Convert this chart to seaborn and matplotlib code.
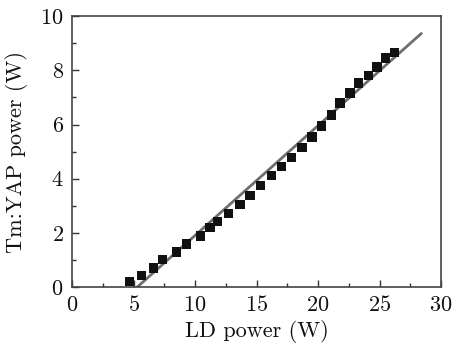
import matplotlib
matplotlib.use("Agg")
import matplotlib.pyplot as plt
import seaborn as sns
import pandas as pd
from matplotlib.ticker import MultipleLocator

ld_power = [4.66, 5.66, 6.64, 7.37, 8.51, 9.33, 10.46, 11.22, 11.84, 12.74, 13.66, 14.47,
            15.3, 16.2, 17.05, 17.86, 18.7, 19.5, 20.3, 21.1, 21.8, 22.6, 23.3, 24.1,
            24.8, 25.5, 26.2]
out_power = [0.2, 0.44, 0.71, 1.02, 1.29, 1.59, 1.88, 2.2, 2.41, 2.72, 3.05, 3.39,
             3.75, 4.11, 4.44, 4.79, 5.15, 5.54, 5.94, 6.35, 6.79, 7.16, 7.53, 7.82,
             8.12, 8.45, 8.67]
fit_x = [5.3, 28.4]
fit_y = [0.0, 9.36]

x_ticks = [0, 5, 10, 15, 20, 25, 30]
y_ticks = [0, 2, 4, 6, 8, 10]

sns.set_style("ticks")
plt.rcParams['font.family'] = ['cmr10', 'DejaVu Serif']
plt.rcParams['axes.formatter.use_mathtext'] = True
plt.rcParams['mathtext.fontset'] = 'cm'

df = pd.DataFrame({"x": ld_power, "y": out_power})
fit = pd.DataFrame({"x": fit_x, "y": fit_y})

fig = plt.figure(figsize=(4.53, 3.43), dpi=100)
ax = fig.add_axes([0.159, 0.163, 0.8145, 0.79])

sns.lineplot(data=fit, x="x", y="y", ax=ax, color="#6e6e6e", linewidth=2.0, zorder=2)
sns.scatterplot(data=df, x="x", y="y", ax=ax, marker="s", color="#111111", s=45,
                edgecolor="none", zorder=3)

ax.set_xlim(0, 30)
ax.set_ylim(0, 10)
ax.set_xticks(x_ticks)
ax.set_yticks(y_ticks)
ax.xaxis.set_minor_locator(MultipleLocator(2.5))
ax.yaxis.set_minor_locator(MultipleLocator(1))
ax.tick_params(which="both", direction="in", top=False, right=False, labelsize=16,
               color="#333333", labelcolor="#111111")
ax.tick_params(which="major", length=5, width=1.0)
ax.tick_params(axis="x", which="major", pad=6)
ax.tick_params(axis="y", which="major", pad=6)
ax.tick_params(which="minor", length=3, width=1.0)
for s in ax.spines.values():
    s.set_color("#444444")
    s.set_linewidth(1.2)

ax.set_xlabel("LD power (W)", fontsize=16, labelpad=3, color="#111111")
ax.set_ylabel("Tm:YAP power (W)", fontsize=16, labelpad=9, color="#111111")

fig.savefig("out.png", dpi=100)
